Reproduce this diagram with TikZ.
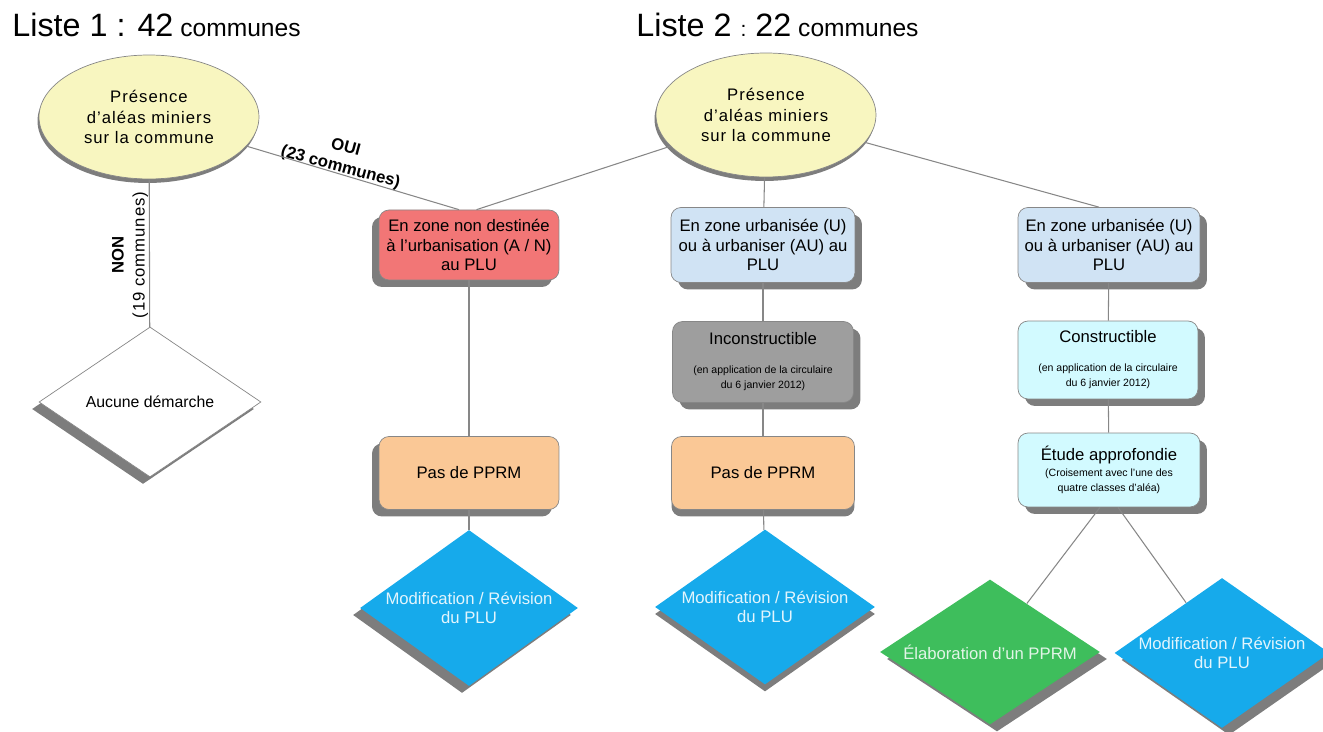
\documentclass[tikz,border=0pt]{standalone}
\usepackage{fontspec}
\setmainfont{Liberation Sans}
\usetikzlibrary{shapes.geometric,shadows}

\definecolor{jaune}{RGB}{248,246,192}
\definecolor{rouge}{RGB}{242,118,118}
\definecolor{bleuclair}{RGB}{208,227,244}
\definecolor{gris}{RGB}{158,158,158}
\definecolor{peche}{RGB}{250,200,150}
\definecolor{cyanclair}{RGB}{210,250,255}
\definecolor{bleu}{RGB}{22,170,235}
\definecolor{vert}{RGB}{62,190,92}
\definecolor{trait}{RGB}{135,135,135}
\definecolor{ombre}{RGB}{125,125,125}

\newcommand{\petit}{\fontsize{6}{7}\selectfont}
\newcommand{\espace}{\addfontfeatures{LetterSpace=6}}

\tikzset{
    % ombres portees
    ombreG/.style={drop shadow={shadow xshift=-0.14cm,shadow yshift=-0.14cm,fill=ombre,opacity=1}},
    ombreD/.style={drop shadow={shadow xshift=0.14cm,shadow yshift=-0.14cm,fill=ombre,opacity=1}},
    ombreB/.style={drop shadow={shadow xshift=0cm,shadow yshift=-0.14cm,fill=ombre,opacity=1}},
    % formes
    bulle/.style={ellipse, draw=trait, fill=jaune, minimum width=4.4cm, minimum height=2.48cm,
        align=center, inner sep=0pt, font=\fontsize{9.5}{11.5}\selectfont\espace,
        drop shadow={shadow xshift=-0.03cm,shadow yshift=-0.08cm,fill=ombre,opacity=1}},
    boite/.style={rectangle, rounded corners=0.2cm, draw=trait, minimum width=3.6cm, minimum height=1.48cm,
        align=center, inner sep=1pt, font=\fontsize{9.5}{11}\selectfont},
    losange/.style={diamond, aspect=1.4, minimum width=4.4cm, minimum height=3.1cm, inner sep=-3pt,
        align=center, font=\fontsize{9.5}{11}\selectfont},
    lien/.style={draw=trait, line width=0.6pt}
}

\begin{document}
\begin{tikzpicture}[x=0.02cm, y=-0.02cm]
    \useasboundingbox (0,0) rectangle (1323,732);

    % titres
    \node[anchor=base west, inner sep=0pt] (titre1) at (12,37)
        {{\fontsize{18.4}{21}\selectfont Liste 1 : 42}{\fontsize{14}{16}\selectfont\ communes}};
    \node[anchor=base west, inner sep=0pt] (titre2) at (636,37)
        {{\fontsize{18.4}{21}\selectfont Liste 2 }{\fontsize{12}{14}\selectfont:}{\fontsize{18.4}{21}\selectfont\ 22}{\fontsize{14}{16}\selectfont\ communes}};

    % liste 1
    \node[bulle] (presence1) at (149,117) {Présence\\d'aléas miniers\\sur la commune};
    \node[losange, draw=trait, fill=white, ombreG, minimum width=4.44cm, minimum height=3cm,
        font=\fontsize{9}{11}\selectfont] (aucune) at (150,402) {Aucune démarche};
    \node[rotate=90, align=center, font=\fontsize{9.5}{12}\selectfont] (non) at (130,255)
        {\textbf{NON}\\{\espace(19 communes)}};
    \node[rotate=-15, align=center, font=\bfseries\fontsize{9.5}{11.5}\selectfont] (oui) at (343,158)
        {OUI\\(23 communes)};

    % colonne A / N
    \node[boite, fill=rouge, ombreG, minimum height=1.4cm] (nonurba) at (469,245)
        {En zone non destinée\\à l'urbanisation (A / N)\\au PLU};
    \node[boite, fill=peche, ombreG, minimum height=1.46cm] (pasppr1) at (469,473) {Pas de PPRM};
    \node[losange, fill=bleu, ombreG, text=white!88!bleu, minimum width=4.36cm, minimum height=3.12cm]
        (modif1) at (469,608) {Modification / Révision\\du PLU};

    % liste 2
    \node[bulle] (presence2) at (766,115) {Présence\\d'aléas miniers\\sur la commune};

    % colonne inconstructible
    \node[boite, fill=bleuclair, ombreD, minimum width=3.68cm, minimum height=1.5cm] (urba1) at (763,245)
        {En zone urbanisée (U)\\ou à urbaniser (AU) au\\PLU};
    \node[boite, fill=gris, ombreD, minimum width=3.62cm, minimum height=1.62cm] (inconstr) at (763,362)
        {Inconstructible\\[5pt]{\petit (en application de la circulaire}\\[-2pt]{\petit du 6 janvier 2012)}};
    \node[boite, fill=peche, ombreB, minimum width=3.66cm, minimum height=1.46cm] (pasppr2) at (763,473) {Pas de PPRM};
    \node[losange, fill=bleu, ombreB, text=white!88!bleu, minimum width=4.4cm, minimum height=3.1cm]
        (modif2) at (765,607) {Modification / Révision\\du PLU};

    % colonne constructible
    \node[boite, fill=bleuclair, ombreD, minimum width=3.64cm, minimum height=1.5cm] (urba2) at (1109,245)
        {En zone urbanisée (U)\\ou à urbaniser (AU) au\\PLU};
    \node[boite, fill=cyanclair, ombreD, minimum width=3.6cm, minimum height=1.56cm] (constr) at (1108,360)
        {Constructible\\[5pt]{\petit (en application de la circulaire}\\[-2pt]{\petit du 6 janvier 2012)}};
    \node[boite, fill=cyanclair, ombreD, minimum width=3.64cm, minimum height=1.48cm] (etude) at (1109,470)
        {Étude approfondie\\[-2pt]{\petit (Croisement avec l'une des}\\[-2pt]{\petit quatre classes d'aléa)}};
    \node[losange, fill=vert, ombreD, text=white!85!vert, aspect=1.5, minimum width=4.4cm, minimum height=2.9cm]
        (elab) at (990,652) {Élaboration d'un PPRM};
    \node[losange, fill=bleu, ombreD, text=white!88!bleu, minimum width=4.3cm, minimum height=3cm]
        (modif3) at (1222,653) {Modification / Révision\\du PLU};

    % liens
    \draw[lien] (presence1) -- (aucune);
    \draw[lien] (presence1) -- ([xshift=-0.2cm]nonurba.north);
    \draw[lien] (presence2) -- ([xshift=0.15cm]nonurba.north);
    \draw[lien] (presence2) -- (urba1);
    \draw[lien] (presence2) -- ([xshift=-0.2cm]urba2.north);
    \draw[lien] (nonurba) -- (pasppr1);
    \draw[lien] (pasppr1) -- (modif1);
    \draw[lien] (urba1) -- (inconstr);
    \draw[lien] (inconstr) -- (pasppr2);
    \draw[lien] (pasppr2) -- (modif2);
    \draw[lien] (urba2) -- (constr);
    \draw[lien] (constr) -- (etude);
    \draw[lien] ([xshift=-0.18cm]etude.south) -- (elab);
    \draw[lien] ([xshift=0.18cm]etude.south) -- (modif3);
\end{tikzpicture}
\end{document}
